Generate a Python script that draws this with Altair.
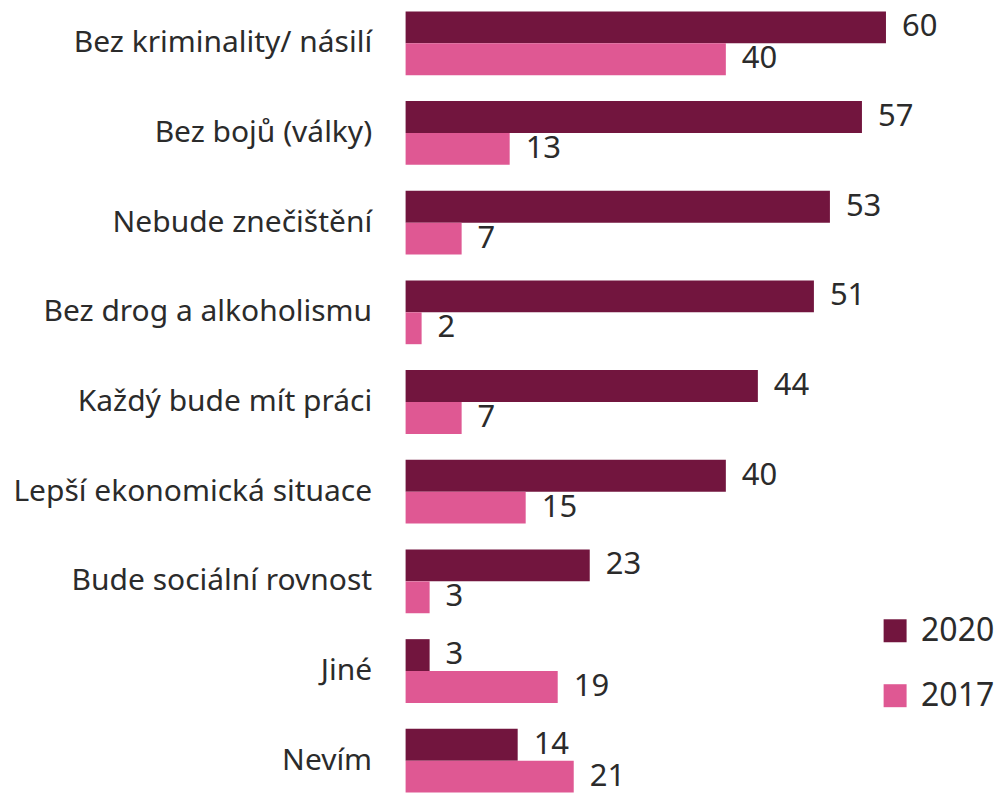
import altair as alt
import pandas as pd

categories = ["Bez kriminality/ násilí", "Bez bojů (války)", "Nebude znečištění",
              "Bez drog a alkoholismu", "Každý bude mít práci", "Lepší ekonomická situace",
              "Bude sociální rovnost", "Jiné", "Nevím"]
v2020 = [60, 57, 53, 51, 44, 40, 23, 3, 14]
v2017 = [40, 13, 7, 2, 7, 15, 3, 19, 21]
series = ["2020", "2017"]
colors = ["#72153E", "#DF5893"]

rows = []
for c, a, b in zip(categories, v2020, v2017):
    rows.append({"cat": c, "year": "2020", "val": a})
    rows.append({"cat": c, "year": "2017", "val": b})
df = pd.DataFrame(rows)

FONT = "Noto Sans"
TXT = "#2b2b2b"

y = alt.Y("cat:N", sort=categories, title=None,
          scale=alt.Scale(paddingInner=0.2889, paddingOuter=0.0333),
          axis=alt.Axis(domain=False, ticks=False, labelFontSize=30, labelFont=FONT,
                        labelColor=TXT, labelPadding=34, labelLimit=420))
yoff = alt.YOffset("year:N", sort=series, scale=alt.Scale(paddingInner=0, paddingOuter=0))
x = alt.X("val:Q", title=None, scale=alt.Scale(domain=[0, 70]), axis=None)

bars = alt.Chart(df).mark_bar().encode(
    x=x, y=y, yOffset=yoff,
    color=alt.Color("year:N", sort=series,
                    scale=alt.Scale(domain=series, range=colors),
                    legend=alt.Legend(title=None, orient="none", legendX=474, legendY=607,
                                      symbolType="square", symbolSize=529,
                                      symbolStrokeWidth=0, labelFontSize=32, labelFont=FONT,
                                      labelColor=TXT, labelOffset=10, rowPadding=33)),
)
labels = alt.Chart(df).mark_text(align="left", baseline="middle", dx=16, fontSize=31,
                                 font=FONT, color=TXT).encode(
    x=x, y=y, yOffset=yoff, text="val:Q")

chart = (bars + labels).properties(
    width=561, height=788,
    padding={"left": 398, "top": 0, "right": 29, "bottom": 0},
    autosize=alt.AutoSizeParams(type="none"),
).configure_view(stroke=None)

chart.save("out.html", embed_options={"renderer": "svg", "actions": False})
